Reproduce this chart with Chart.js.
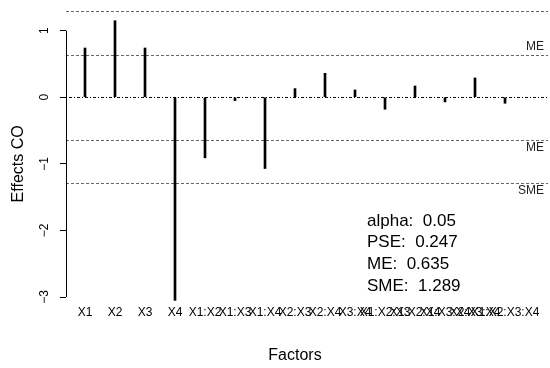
<!DOCTYPE html>
<html>
<head>
<meta charset="utf-8">
<script src="https://cdn.jsdelivr.net/npm/chart.js@4/dist/chart.umd.min.js"></script>
<style>
  html, body { margin: 0; padding: 0; background: #fff; }
  #wrap { width: 550px; height: 368px; }
</style>
</head>
<body>
<div id="wrap"><canvas id="lenthChart"></canvas></div>
<script>
// factor effects on CO
const factors = ['X1', 'X2', 'X3', 'X4', 'X1:X2', 'X1:X3', 'X1:X4', 'X2:X3', 'X2:X4', 'X3:X4',
                 'X1:X2:X3', 'X1:X2:X4', 'X1:X3:X4', 'X2:X3:X4', 'X1:X2:X3:X4'];
const effects = [0.74, 1.15, 0.74, -3.05, -0.91, -0.05, -1.07, 0.13, 0.36, 0.11,
                 -0.18, 0.17, -0.07, 0.29, -0.09];
const yTicks = [-3, -2, -1, 0, 1];

// Lenth statistics
const alpha = 0.05;
const PSE = 0.247;
const ME = 0.635;
const SME = 1.289;

const FONT = '"Liberation Sans", Arial, Helvetica, sans-serif';

const lenthLines = {
  id: 'lenthLines',
  beforeDatasetsDraw(chart) {
    const { ctx, scales: { y } } = chart;
    const x0 = chart.chartArea.left, x1 = chart.chartArea.right;
    ctx.save();
    ctx.lineWidth = 1;
    ctx.strokeStyle = '#666';
    ctx.setLineDash([3, 2]);
    [SME, ME, -ME, -SME].forEach(v => {
      const py = Math.round(y.getPixelForValue(v)) + 0.5;
      ctx.beginPath(); ctx.moveTo(x0, py); ctx.lineTo(x1, py); ctx.stroke();
    });
    // zero line
    ctx.strokeStyle = '#000';
    ctx.setLineDash([1, 2, 3, 2]);
    const pz = Math.round(y.getPixelForValue(0)) + 0.5;
    ctx.beginPath(); ctx.moveTo(x0, pz); ctx.lineTo(x1, pz); ctx.stroke();
    ctx.restore();
  },
  afterDraw(chart) {
    const { ctx, scales: { x, y } } = chart;
    const ax = chart.chartArea.left + 0.5;
    ctx.save();
    // y axis line spans the labelled ticks only
    ctx.strokeStyle = '#000';
    ctx.lineWidth = 1;
    ctx.beginPath();
    ctx.moveTo(ax, y.getPixelForValue(yTicks[0]));
    ctx.lineTo(ax, y.getPixelForValue(yTicks[yTicks.length - 1]));
    ctx.stroke();

    // y tick labels, rotated
    ctx.fillStyle = '#000';
    ctx.font = '12px ' + FONT;
    ctx.textAlign = 'center';
    ctx.textBaseline = 'middle';
    yTicks.forEach(v => {
      ctx.save();
      ctx.translate(45, y.getPixelForValue(v));
      ctx.rotate(-Math.PI / 2);
      ctx.fillText(v < 0 ? '\u2212' + Math.abs(v) : String(v), 0, 0);
      ctx.restore();
    });

    // axis titles
    ctx.font = '16px ' + FONT;
    ctx.fillText('Factors', (x.getPixelForValue(1) + x.getPixelForValue(factors.length)) / 2, 356);
    ctx.save();
    ctx.translate(19, (y.getPixelForValue(yTicks[0]) + y.getPixelForValue(yTicks[yTicks.length - 1])) / 2);
    ctx.rotate(-Math.PI / 2);
    ctx.fillText('Effects CO', 0, 0);
    ctx.restore();

    // ME / SME markers at the right
    ctx.font = '12px ' + FONT;
    ctx.fillStyle = '#222';
    ctx.textAlign = 'right';
    const rx = chart.chartArea.right - 4;
    ctx.fillText('ME', rx, y.getPixelForValue(ME) - 8);
    ctx.fillText('ME', rx, y.getPixelForValue(-ME) + 8);
    ctx.fillText('SME', rx, y.getPixelForValue(-SME) + 8);

    // statistics block
    ctx.font = '17px ' + FONT;
    ctx.fillStyle = '#000';
    ctx.textAlign = 'left';
    const stats = ['alpha:  ' + alpha, 'PSE:  ' + PSE, 'ME:  ' + ME, 'SME:  ' + SME];
    stats.forEach((s, i) => ctx.fillText(s, 367, 221 + i * 21.7));
    ctx.restore();
  }
};

new Chart(document.getElementById('lenthChart'), {
  type: 'bar',
  data: {
    datasets: [{
      data: effects.map((v, i) => ({ x: i + 1, y: v })),
      backgroundColor: '#000',
      borderWidth: 0,
      barThickness: 2
    }]
  },
  options: {
    responsive: true,
    maintainAspectRatio: false,
    animation: false,
    layout: { padding: { top: 4, right: 2, left: 0, bottom: 0 } },
    plugins: { legend: { display: false }, tooltip: { enabled: false } },
    scales: {
      x: {
        type: 'linear',
        offset: false,
        min: 0.3667,
        max: 16.433,
        grid: { display: false, drawTicks: false, offset: false },
        border: { display: false },
        afterBuildTicks: s => { s.ticks = factors.map((_, i) => ({ value: i + 1 })); },
        afterFit: s => { s.height = 64; },
        ticks: {
          autoSkip: false,
          maxRotation: 0,
          minRotation: 0,
          padding: 1,
          color: '#000',
          font: { family: FONT, size: 12 },
          callback: v => factors[v - 1] || ''
        }
      },
      y: {
        min: -3.105,
        max: 1.401,
        border: { display: false },
        grid: { drawOnChartArea: false, tickLength: 6, color: '#000' },
        afterBuildTicks: s => { s.ticks = yTicks.map(v => ({ value: v })); },
        afterFit: s => { s.width = 66; },
        ticks: { display: false }
      }
    }
  },
  plugins: [lenthLines]
});
</script>
</body>
</html>
